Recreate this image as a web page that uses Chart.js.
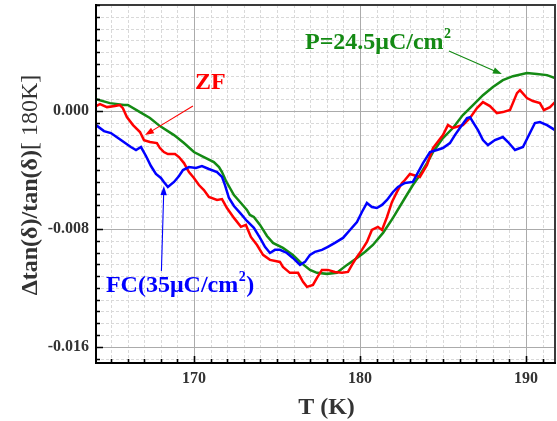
<!DOCTYPE html>
<html>
<head>
<meta charset="utf-8">
<script src="https://cdn.jsdelivr.net/npm/chart.js@4/dist/chart.umd.min.js"></script>
<style>
  html, body { margin: 0; padding: 0; background: #fff; }
  #wrap { width: 557px; height: 421px; }
</style>
</head>
<body>
<div id="wrap"><canvas id="c" width="557" height="421"></canvas></div>
<script>
// Relative loss-tangent change vs temperature, normalised at 180 K.

// P = 24.5 µC/cm² (green)
const greenT = [164.10,164.94,165.78,166.02,166.75,167.35,167.95,168.80,169.40,170.00,170.60,171.20,171.51,171.69,171.93,172.41,172.83,173.19,173.37,173.61,173.98,174.40,174.76,175.36,175.96,176.39,176.99,177.41,178.01,178.61,179.22,179.82,180.30,180.78,181.39,181.99,182.71,183.19,183.61,184.04,184.40,185.00,185.60,186.20,186.81,187.41,188.01,188.61,189.22,190.06,190.66,191.27,191.75];
const greenV = [0.00081,0.00054,0.00041,0.00041,-0.00007,-0.00047,-0.00102,-0.00163,-0.00217,-0.00278,-0.00312,-0.00346,-0.00380,-0.00414,-0.00475,-0.00570,-0.00624,-0.00671,-0.00705,-0.00719,-0.00773,-0.00848,-0.00895,-0.00929,-0.00976,-0.01024,-0.01078,-0.01098,-0.01105,-0.01098,-0.01044,-0.00997,-0.00956,-0.00909,-0.00827,-0.00725,-0.00590,-0.00502,-0.00434,-0.00353,-0.00278,-0.00183,-0.00115,-0.00027,0.00041,0.00108,0.00163,0.00210,0.00237,0.00258,0.00251,0.00244,0.00224];

// Zero field (red)
const redT = [164.10,164.34,164.76,165.24,165.54,165.72,165.96,166.33,166.75,166.99,167.35,167.77,167.95,168.19,168.43,168.86,169.10,169.40,169.70,170.00,170.30,170.60,170.90,171.39,171.69,171.99,172.41,172.83,173.13,173.43,173.80,174.16,174.58,175.18,175.36,175.78,176.27,176.57,176.81,177.17,177.41,177.71,178.07,178.49,178.92,179.28,179.52,179.82,180.12,180.42,180.72,181.08,181.33,181.63,181.93,182.23,182.53,182.71,183.01,183.61,184.04,184.40,185.00,185.30,185.60,186.20,186.63,187.05,187.41,187.83,188.25,188.61,189.04,189.46,189.64,190.06,190.42,190.84,191.08,191.45,191.75];
const redV = [0.00034,0.00047,0.00027,0.00034,0.00041,0.00020,-0.00041,-0.00095,-0.00142,-0.00197,-0.00210,-0.00217,-0.00251,-0.00278,-0.00292,-0.00292,-0.00312,-0.00353,-0.00414,-0.00454,-0.00502,-0.00536,-0.00583,-0.00603,-0.00597,-0.00658,-0.00725,-0.00786,-0.00773,-0.00854,-0.00909,-0.00976,-0.01010,-0.01024,-0.01058,-0.01098,-0.01098,-0.01159,-0.01193,-0.01180,-0.01132,-0.01078,-0.01078,-0.01092,-0.01098,-0.01092,-0.01044,-0.00990,-0.00942,-0.00888,-0.00807,-0.00786,-0.00807,-0.00719,-0.00617,-0.00549,-0.00488,-0.00468,-0.00427,-0.00447,-0.00366,-0.00251,-0.00163,-0.00095,-0.00115,-0.00095,-0.00047,0.00020,0.00061,0.00034,-0.00014,-0.00007,0.00007,0.00122,0.00142,0.00088,0.00068,0.00054,0.00007,0.00027,0.00061];

// Field cooled, 35 µC/cm² (blue)
const blueT = [164.10,164.58,165.00,165.60,166.20,166.51,166.81,167.11,167.41,167.71,168.01,168.19,168.43,168.80,169.10,169.34,169.70,170.12,170.48,170.90,171.39,171.69,171.87,172.11,172.41,172.83,173.19,173.61,173.98,174.28,174.58,174.88,175.18,175.60,175.96,176.39,176.69,176.99,177.29,177.71,178.07,178.49,178.98,179.40,179.82,180.12,180.42,180.72,181.02,181.33,181.63,181.99,182.29,182.71,183.19,183.80,184.22,184.64,185.00,185.42,185.72,186.02,186.45,186.63,186.81,187.11,187.41,187.71,188.13,188.61,188.92,189.34,189.82,190.24,190.54,190.84,191.27,191.75];
const blueV = [-0.00095,-0.00136,-0.00149,-0.00197,-0.00244,-0.00264,-0.00244,-0.00305,-0.00373,-0.00427,-0.00454,-0.00481,-0.00515,-0.00481,-0.00441,-0.00400,-0.00380,-0.00386,-0.00373,-0.00393,-0.00414,-0.00447,-0.00502,-0.00590,-0.00644,-0.00698,-0.00746,-0.00793,-0.00861,-0.00922,-0.00963,-0.00942,-0.00942,-0.00963,-0.00997,-0.01044,-0.01024,-0.00976,-0.00956,-0.00942,-0.00922,-0.00895,-0.00861,-0.00807,-0.00753,-0.00685,-0.00624,-0.00651,-0.00658,-0.00637,-0.00603,-0.00549,-0.00515,-0.00488,-0.00481,-0.00353,-0.00278,-0.00264,-0.00251,-0.00217,-0.00163,-0.00115,-0.00047,-0.00041,-0.00075,-0.00129,-0.00197,-0.00231,-0.00197,-0.00176,-0.00210,-0.00264,-0.00244,-0.00149,-0.00081,-0.00075,-0.00095,-0.00129];

// Axis ranges and tick steps
const xRange = [164.1, 191.75];
const yRange = [-0.0171, 0.0072];
const xMajorStep = 10, xMinorStep = 1;
const yMajorStep = 0.008, yMinorStep = 0.0008;

const SERIF = "'Liberation Serif', 'Times New Roman', serif";
const GREEN = '#148a14', RED = '#ff0000', BLUE = '#0000ff';

const toPoints = (ts, vs) => ts.map((t, i) => ({ x: t, y: vs[i] }));

// Callouts, placed in data coordinates
const callouts = [
  { text: 'ZF', sup: '', color: RED, at: [170.06, 0.00149],
    arrow: [[169.94, 0.00034], [167.05, -0.00163]] },
  { text: 'P=24.5\u03bcC/cm', sup: '2', tail: '', color: GREEN, at: [176.69, 0.00420],
    arrow: [[185.36, 0.00407], [188.55, 0.00251]] },
  { text: 'FC(35\u03bcC/cm', sup: '2', tail: ')', color: BLUE, at: [164.70, -0.01227],
    arrow: [[168.04, -0.01085], [168.19, -0.00509]] }
];

function drawArrow(ctx, x1, y1, x2, y2, color) {
  const ang = Math.atan2(y2 - y1, x2 - x1);
  const hl = 9, hw = 3.2;
  ctx.save();
  ctx.strokeStyle = color; ctx.fillStyle = color; ctx.lineWidth = 1.1;
  ctx.beginPath();
  ctx.moveTo(x1, y1);
  ctx.lineTo(x2 - Math.cos(ang) * hl * 0.8, y2 - Math.sin(ang) * hl * 0.8);
  ctx.stroke();
  ctx.beginPath();
  ctx.moveTo(x2, y2);
  ctx.lineTo(x2 - Math.cos(ang) * hl - Math.sin(ang) * hw, y2 - Math.sin(ang) * hl + Math.cos(ang) * hw);
  ctx.lineTo(x2 - Math.cos(ang) * hl + Math.sin(ang) * hw, y2 - Math.sin(ang) * hl - Math.cos(ang) * hw);
  ctx.closePath();
  ctx.fill();
  ctx.restore();
}

const frameAndGrid = {
  id: 'frameAndGrid',
  beforeDatasetsDraw(chart) {
    const { ctx, chartArea: a, scales: { x, y } } = chart;
    ctx.save();
    ctx.beginPath(); ctx.rect(a.left, a.top, a.right - a.left, a.bottom - a.top); ctx.clip();
    const kx0 = Math.ceil(x.min / xMinorStep), kx1 = Math.floor(x.max / xMinorStep);
    const ky0 = Math.ceil(y.min / yMinorStep - 1e-6), ky1 = Math.floor(y.max / yMinorStep + 1e-6);
    const ratioX = Math.round(xMajorStep / xMinorStep), ratioY = Math.round(yMajorStep / yMinorStep);
    // minor grid (dashed)
    ctx.lineWidth = 1; ctx.strokeStyle = '#d9d9d9'; ctx.setLineDash([3, 2]);
    ctx.beginPath();
    for (let k = kx0; k <= kx1; k++) {
      if (k % ratioX === 0) continue;
      const px = Math.round(x.getPixelForValue(k * xMinorStep)) + 0.5;
      ctx.moveTo(px, a.top); ctx.lineTo(px, a.bottom);
    }
    for (let k = ky0; k <= ky1; k++) {
      if (k % ratioY === 0) continue;
      const py = Math.round(y.getPixelForValue(k * yMinorStep)) + 0.5;
      ctx.moveTo(a.left, py); ctx.lineTo(a.right, py);
    }
    ctx.stroke();
    // major grid (solid)
    ctx.setLineDash([]); ctx.strokeStyle = '#ababab';
    ctx.beginPath();
    for (let k = kx0; k <= kx1; k++) {
      if (k % ratioX !== 0) continue;
      const px = Math.round(x.getPixelForValue(k * xMinorStep)) + 0.5;
      ctx.moveTo(px, a.top); ctx.lineTo(px, a.bottom);
    }
    for (let k = ky0; k <= ky1; k++) {
      if (k % ratioY !== 0) continue;
      const py = Math.round(y.getPixelForValue(k * yMinorStep)) + 0.5;
      ctx.moveTo(a.left, py); ctx.lineTo(a.right, py);
    }
    ctx.stroke();
    ctx.restore();
  },
  afterDatasetsDraw(chart) {
    const { ctx, chartArea: a, scales: { x, y } } = chart;
    ctx.save();
    // frame
    ctx.strokeStyle = '#3a3a3a'; ctx.lineWidth = 2;
    ctx.strokeRect(a.left, a.top, a.right - a.left, a.bottom - a.top);
    ctx.strokeStyle = '#000'; ctx.lineWidth = 2;
    ctx.beginPath();
    ctx.moveTo(a.left, a.top - 1); ctx.lineTo(a.left, a.bottom); ctx.lineTo(a.right + 1, a.bottom);
    ctx.stroke();
    // inward tick marks on left and bottom axes
    const kx0 = Math.ceil(x.min / xMinorStep), kx1 = Math.floor(x.max / xMinorStep);
    const ky0 = Math.ceil(y.min / yMinorStep - 1e-6), ky1 = Math.floor(y.max / yMinorStep + 1e-6);
    const ratioX = Math.round(xMajorStep / xMinorStep), ratioY = Math.round(yMajorStep / yMinorStep);
    ctx.lineWidth = 1.6;
    ctx.beginPath();
    for (let k = kx0; k <= kx1; k++) {
      const len = k % ratioX === 0 ? 7 : 4;
      const px = Math.round(x.getPixelForValue(k * xMinorStep)) + 0.5;
      ctx.moveTo(px, a.bottom); ctx.lineTo(px, a.bottom - len);
    }
    for (let k = ky0; k <= ky1; k++) {
      const len = k % ratioY === 0 ? 7 : 4;
      const py = Math.round(y.getPixelForValue(k * yMinorStep)) + 0.5;
      ctx.moveTo(a.left, py); ctx.lineTo(a.left + len, py);
    }
    ctx.stroke();
    ctx.restore();
  },
  afterDraw(chart) {
    const { ctx, chartArea: a, scales: { x, y } } = chart;
    ctx.save();
    // callouts
    callouts.forEach(c => {
      const px = x.getPixelForValue(c.at[0]), py = y.getPixelForValue(c.at[1]);
      ctx.fillStyle = c.color;
      ctx.textBaseline = 'alphabetic'; ctx.textAlign = 'left';
      ctx.font = `bold 24px ${SERIF}`;
      ctx.fillText(c.text, px, py);
      let cx = px + ctx.measureText(c.text).width;
      if (c.sup) {
        ctx.font = `bold 14px ${SERIF}`;
        ctx.fillText(c.sup, cx + 0.5, py - 11);
        cx += ctx.measureText(c.sup).width + 1;
      }
      if (c.tail) {
        ctx.font = `bold 24px ${SERIF}`;
        ctx.fillText(c.tail, cx, py);
      }
      const [p, q] = c.arrow;
      drawArrow(ctx, x.getPixelForValue(p[0]), y.getPixelForValue(p[1]),
                     x.getPixelForValue(q[0]), y.getPixelForValue(q[1]), c.color);
    });
    // x axis title
    ctx.fillStyle = '#333';
    ctx.font = `bold 24px ${SERIF}`;
    ctx.textAlign = 'center'; ctx.textBaseline = 'alphabetic';
    ctx.fillText('T (K)', (a.left + a.right) / 2 + 1, 414);
    // y axis title: bold quantity, regular reference
    const partA = '\u0394tan(\u03b4)/tan(\u03b4)', partB = '[ 180K]';
    ctx.translate(37, (a.top + a.bottom) / 2 + 1);
    ctx.rotate(-Math.PI / 2);
    ctx.textAlign = 'left';
    ctx.font = `bold 24px ${SERIF}`;
    const wA = ctx.measureText(partA).width;
    ctx.font = `24px ${SERIF}`;
    const wB = ctx.measureText(partB).width;
    const start = -(wA + wB) / 2;
    ctx.font = `bold 24px ${SERIF}`;
    ctx.fillText(partA, start, 0);
    ctx.font = `24px ${SERIF}`;
    ctx.fillText(partB, start + wA, 0);
    ctx.restore();
  }
};

const lineStyle = color => ({
  borderColor: color, backgroundColor: color, borderWidth: 2.5,
  pointRadius: 0, tension: 0, fill: false
});

new Chart(document.getElementById('c'), {
  type: 'line',
  data: {
    datasets: [
      { label: 'FC(35\u03bcC/cm\u00b2)', data: toPoints(blueT, blueV), ...lineStyle(BLUE) },
      { label: 'ZF', data: toPoints(redT, redV), ...lineStyle(RED) },
      { label: 'P=24.5\u03bcC/cm\u00b2', data: toPoints(greenT, greenV), ...lineStyle(GREEN) }
    ]
  },
  options: {
    responsive: false,
    animation: false,
    layout: { padding: { top: 5, right: 2, left: 0, bottom: 0 } },
    plugins: { legend: { display: false }, tooltip: { enabled: false } },
    scales: {
      x: {
        type: 'linear', min: xRange[0], max: xRange[1],
        grid: { display: false, drawTicks: false },
        border: { display: false },
        ticks: {
          stepSize: xMajorStep, includeBounds: false, autoSkip: false, maxRotation: 0,
          padding: 6, color: '#333',
          font: { family: SERIF, size: 16, weight: 'bold' },
          callback: v => String(Math.round(v))
        },
        afterFit: s => { s.height = 58; s.paddingLeft = 0; s.paddingRight = 0; }
      },
      y: {
        type: 'linear', min: yRange[0], max: yRange[1],
        grid: { display: false, drawTicks: false },
        border: { display: false },
        ticks: {
          stepSize: yMajorStep, includeBounds: false, autoSkip: false,
          padding: 7, color: '#333',
          font: { family: SERIF, size: 16, weight: 'bold' },
          callback: v => (Math.abs(v) < 1e-9 ? 0 : v).toFixed(3)
        },
        afterFit: s => { s.width = 96; s.paddingTop = 0; s.paddingBottom = 0; }
      }
    }
  },
  plugins: [frameAndGrid]
});
</script>
</body>
</html>
